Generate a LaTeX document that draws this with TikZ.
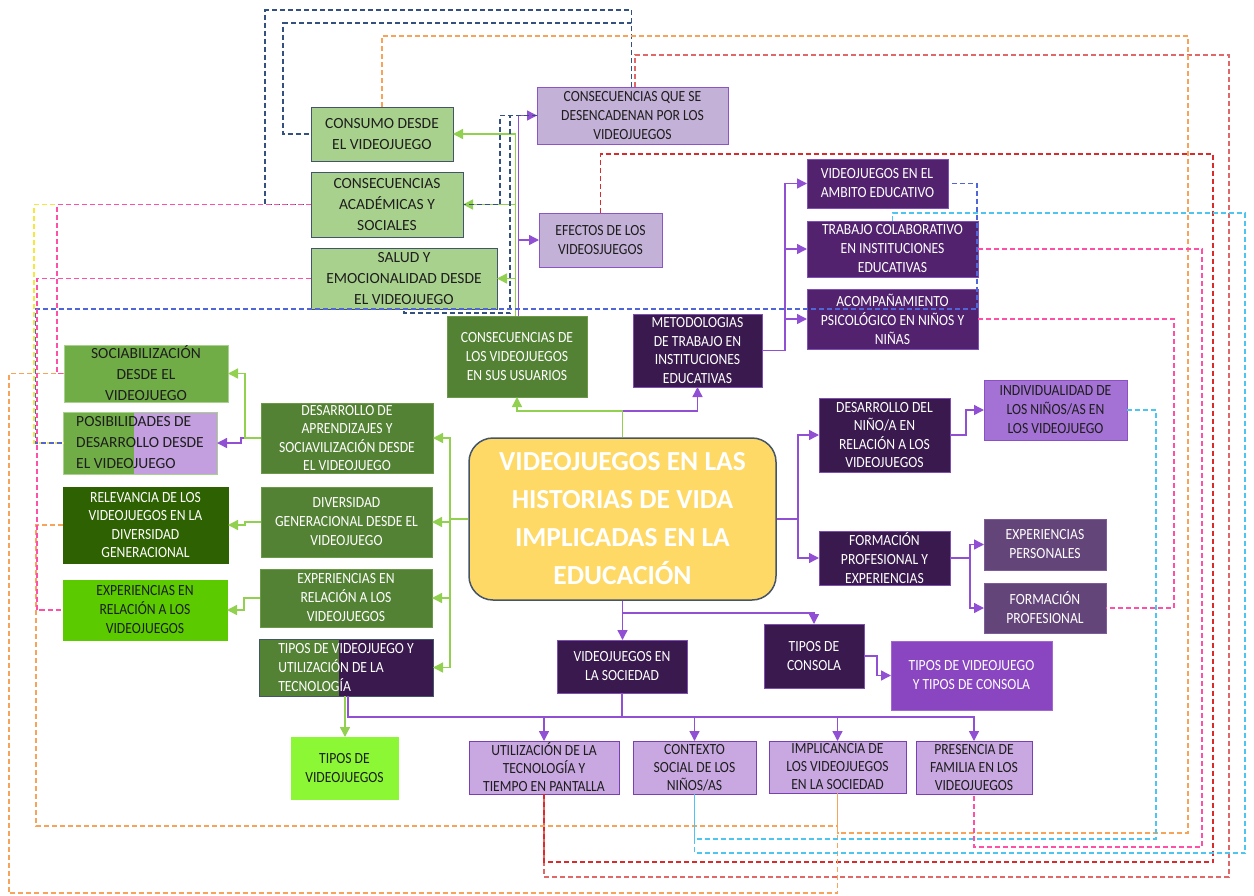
\documentclass[tikz,border=0pt]{standalone}
\usepackage{fontspec}
\setmainfont{Carlito}
\newfontfamily\condfont[FakeStretch=0.88]{Carlito}
\usetikzlibrary{arrows.meta}
\definecolor{lgreen}{HTML}{A9D18E}
\definecolor{slate}{HTML}{44546A}
\definecolor{lpurp}{HTML}{C3B1D7}
\definecolor{lpurpB}{HTML}{8B55C8}
\definecolor{mgreen}{HTML}{548235}
\definecolor{mgreenB}{HTML}{6A9A48}
\definecolor{dpurp}{HTML}{3A1A4E}
\definecolor{dpurpB}{HTML}{7E4FB0}
\definecolor{ppurp}{HTML}{53226F}
\definecolor{ppurpB}{HTML}{8050B8}
\definecolor{mpurp}{HTML}{A472D5}
\definecolor{mpurpB}{HTML}{8B4FC6}
\definecolor{gpurp}{HTML}{644579}
\definecolor{gpurpB}{HTML}{7E5C9C}
\definecolor{vpurp}{HTML}{8A45C0}
\definecolor{vpurpB}{HTML}{A068D0}
\definecolor{lav}{HTML}{C9A8E2}
\definecolor{lavB}{HTML}{7B3FB5}
\definecolor{brgreen}{HTML}{8CF734}
\definecolor{sgreen}{HTML}{70AD47}
\definecolor{dkgreen}{HTML}{2E6101}
\definecolor{lime}{HTML}{5BCB00}
\definecolor{splitlav}{HTML}{C39FE0}
\definecolor{central}{HTML}{FFD966}
\definecolor{txtdark}{HTML}{1E1E1E}
\definecolor{cgreen}{HTML}{92D050}
\definecolor{cpurp}{HTML}{9150D4}
\definecolor{dnavy}{HTML}{33507F}
\definecolor{dblue}{HTML}{5066D8}
\definecolor{dyellow}{HTML}{F5E83A}
\definecolor{dpink}{HTML}{FF4FA7}
\definecolor{dorange}{HTML}{F7A45A}
\definecolor{dsalmon}{HTML}{E06868}
\definecolor{dred}{HTML}{D92B2B}
\definecolor{dcyan}{HTML}{4EC5EE}
\newcommand\mkbox[7]{\node[#1, minimum width=#5pt, minimum height=#6pt] (#2) at (#3,#4) {#7};}
\begin{document}
\begin{tikzpicture}[x=1pt,y=-1pt,
  box/.style={rectangle, draw, line width=1pt, inner xsep=2pt, inner ysep=0pt, outer sep=0pt, align=center, font=\condfont\fontsize{15.5}{19}\selectfont},
  lg/.style={box, fill=lgreen, draw=slate, text=txtdark, font=\rmfamily\fontsize{15.5}{21}\selectfont},
  lp/.style={box, fill=lpurp, draw=lpurpB, text=txtdark},
  gbox/.style={box, fill=mgreen, draw=mgreenB, text=white},
  dp/.style={box, fill=dpurp, draw=dpurpB, text=white},
  pp/.style={box, fill=ppurp, draw=ppurpB, text=white},
  mp/.style={box, fill=mpurp, draw=mpurpB, text=txtdark},
  gp/.style={box, fill=gpurp, draw=gpurpB, text=white},
  vp/.style={box, fill=vpurp, draw=vpurpB, text=white},
  lv/.style={box, fill=lav, draw=lavB, text=txtdark},
  splitfill/.style 2 args={path picture={\fill[#1] ([xshift=#2]path picture bounding box.south west) rectangle (path picture bounding box.north east);}},
  gl/.style={draw=cgreen, line width=1.4pt},
  ga/.style={gl, -{Triangle[length=10pt,width=10pt]}},
  pl/.style={draw=cpurp, line width=1.4pt},
  pa/.style={pl, -{Triangle[length=10pt,width=10pt]}},
  dsh/.style={line width=1.3pt, dash pattern=on 5pt off 3pt}
]
\useasboundingbox[fill=white] (0,0) rectangle (1254,895);

% ---------- nodes ----------
\mkbox{lg}{cons}{382}{134}{142}{54}{CONSUMO DESDE\\EL VIDEOJUEGO}
\mkbox{lg}{acad}{387}{204.5}{152}{65}{CONSECUENCIAS\\ACADÉMICAS Y\\SOCIALES}
\mkbox{lg}{salud}{404}{278.5}{186}{61}{SALUD Y\\EMOCIONALIDAD DESDE\\EL VIDEOJUEGO}
\mkbox{lp}{desenc}{632.5}{115.5}{191}{57}{CONSECUENCIAS QUE SE\\DESENCADENAN POR LOS\\VIDEOJUEGOS}
\mkbox{lp}{efectos}{600.5}{240}{123}{54}{EFECTOS DE LOS\\VIDEOSJUEGOS}
\mkbox{gbox}{usuarios}{517}{356.5}{140}{81}{CONSECUENCIAS DE\\LOS VIDEOJUEGOS\\EN SUS USUARIOS}
\mkbox{dp,font=\condfont\fontsize{15.5}{18.5}\selectfont}{metod}{697.5}{350.5}{129}{73}{METODOLOGIAS\\DE TRABAJO EN\\INSTITUCIONES\\EDUCATIVAS}
\mkbox{pp,align=left}{ambito}{877.5}{183.5}{141}{49}{VIDEOJUEGOS EN EL\\AMBITO EDUCATIVO}
\mkbox{pp}{trabajo}{892.5}{249}{171}{56}{TRABAJO COLABORATIVO\\EN INSTITUCIONES\\EDUCATIVAS}
\mkbox{pp}{acomp}{892.5}{319}{171}{60}{ACOMPAÑAMIENTO\\PSICOLÓGICO EN NIÑOS Y\\NIÑAS}
\mkbox{dp,font=\condfont\fontsize{15.5}{18.5}\selectfont}{desnino}{884.5}{435}{131}{74}{DESARROLLO DEL\\NIÑO/A EN\\RELACIÓN A LOS\\VIDEOJUEGOS}
\mkbox{mp}{indiv}{1055.5}{410}{143}{60}{INDIVIDUALIDAD DE\\LOS NIÑOS/AS EN\\LOS VIDEOJUEGO}
\mkbox{dp}{formexp}{884.5}{558}{131}{54}{FORMACIÓN\\PROFESIONAL Y\\EXPERIENCIAS}
\mkbox{gp}{experso}{1045}{544.5}{122}{51}{EXPERIENCIAS\\PERSONALES}
\mkbox{gp}{formprof}{1045}{608}{122}{50}{FORMACIÓN\\PROFESIONAL}
\node[rectangle, rounded corners=24pt, draw=slate, line width=1.5pt, fill=central, text=white,
  align=center, inner sep=0pt, minimum width=307pt, minimum height=162pt,
  font=\fontsize{27.5}{38}\selectfont\bfseries] (centre) at (622.5,519)
  {VIDEOJUEGOS EN LAS\\HISTORIAS DE VIDA\\IMPLICADAS EN LA\\EDUCACIÓN};
\mkbox{dp}{consola}{814}{656}{100}{64}{TIPOS DE\\CONSOLA}
\mkbox{vp}{tiposvc}{971.5}{675.5}{161}{69}{TIPOS DE VIDEOJUEGO\\Y TIPOS DE CONSOLA}
\mkbox{dp}{sociedad}{622}{666.5}{130}{53}{VIDEOJUEGOS EN\\LA SOCIEDAD}
\mkbox{lv,font=\condfont\fontsize{15.5}{18}\selectfont}{utiliz}{544}{767.5}{150}{53}{UTILIZACIÓN DE LA\\TECNOLOGÍA Y\\TIEMPO EN PANTALLA}
\mkbox{lv,font=\condfont\fontsize{15.5}{18}\selectfont}{contexto}{694.5}{767.5}{123}{53}{CONTEXTO\\SOCIAL DE LOS\\NIÑOS/AS}
\mkbox{lv,font=\condfont\fontsize{15.5}{18}\selectfont}{implic}{837.5}{767}{137}{52}{IMPLICANCIA DE\\LOS VIDEOJUEGOS\\EN LA SOCIEDAD}
\mkbox{lv,font=\condfont\fontsize{15.5}{18}\selectfont}{presencia}{974}{767.5}{116}{53}{PRESENCIA DE\\FAMILIA EN LOS\\VIDEOJUEGOS}
\mkbox{gbox,draw=slate,align=left,splitfill={dpurp}{80pt}}{tiposut}{346}{667.5}{174}{57}{TIPOS DE VIDEOJUEGO Y\\UTILIZACIÓN DE LA\\TECNOLOGÍA}
\mkbox{box,fill=brgreen,draw=brgreen,text=txtdark}{tiposvj}{344.5}{768}{107}{62}{TIPOS DE\\VIDEOJUEGOS}
\mkbox{gbox}{expmid}{346}{598}{172}{58}{EXPERIENCIAS EN\\RELACIÓN A LOS\\VIDEOJUEGOS}
\mkbox{gbox}{divgen}{346.5}{522}{171}{70}{DIVERSIDAD\\GENERACIONAL DESDE EL\\VIDEOJUEGO}
\mkbox{gbox,font=\condfont\fontsize{15.5}{18.5}\selectfont}{desapr}{347}{438}{172}{70}{DESARROLLO DE\\APRENDIZAJES Y\\SOCIAVILIZACIÓN DESDE\\EL VIDEOJUEGO}
\mkbox{lg,fill=sgreen,draw=lgreen}{sociab}{146}{373.5}{164}{57}{SOCIABILIZACIÓN\\DESDE EL\\VIDEOJUEGO}
\mkbox{lg,fill=sgreen,draw=lgreen,align=left,splitfill={splitlav}{71pt}}{posib}{140}{443}{154}{62}{POSIBILIDADES DE\\DESARROLLO DESDE\\EL VIDEOJUEGO}
\mkbox{box,fill=dkgreen,draw=dkgreen,text=white,font=\condfont\fontsize{15.5}{18.5}\selectfont}{relev}{145.5}{525}{165}{76}{RELEVANCIA DE LOS\\VIDEOJUEGOS EN LA\\DIVERSIDAD\\GENERACIONAL}
\mkbox{box,fill=lime,draw=lime,text=txtdark}{expleft}{145}{610}{164}{60}{EXPERIENCIAS EN\\RELACIÓN A LOS\\VIDEOJUEGOS}

% ---------- solid connectors ----------
\coordinate (ct) at (622.5,411);
\draw[gl] (centre.north) -- (ct);
\draw[ga] (ct) -| (usuarios.south);
\draw[pa] (ct) -| (metod.south);

\draw[ga] ([xshift=-1.5pt]usuarios.north) |- (cons.east);
\draw[ga] ([xshift=-1.5pt]usuarios.north) |- (acad.east);
\draw[ga] ([xshift=-1.5pt]usuarios.north) |- (salud.east);
\draw[pa] ([xshift=1.5pt]usuarios.north) |- (desenc.west);
\draw[pa] ([xshift=1.5pt]usuarios.north) |- (efectos.west);

\coordinate (mj) at (785,350.5);
\draw[pl] (metod.east) -- (mj);
\draw[pa] (mj) |- (ambito.west);
\draw[pa] (mj) |- (trabajo.west);
\draw[pa] (mj) |- (acomp.west);

\coordinate (cj) at (798,519);
\draw[pl] (centre.east) -- (cj);
\draw[pa] (cj) |- (desnino.west);
\draw[pa] (cj) |- (formexp.west);
\draw[pa] (desnino.east) -- ++(16,0) |- (indiv.west);
\draw[pa] (formexp.east) -- ++(20,0) |- (experso.west);
\draw[pa] (formexp.east) -- ++(20,0) |- (formprof.west);

\draw[pa] (centre.south) -- (centre.south |- sociedad.north);
\coordinate (cb) at (622.5,613);
\draw[pa] (cb) -| (consola.north);
\draw[pa] (consola.east) -- ++(13,0) |- (tiposvc.west);

\coordinate (sj) at (622,717);
\draw[pl] (sociedad.south) -- (sj);
\draw[pl] ([xshift=2pt]tiposut.south) |- (sj);
\draw[pa] (sj) -| (utiliz.north);
\draw[pa] (sj) -| (contexto.north);
\draw[pa] (sj) -| (implic.north);
\draw[pa] (sj) -| (presencia.north);
\draw[ga] ([xshift=-1pt]tiposut.south) -- ([xshift=-1pt]tiposut.south |- tiposvj.north);

\coordinate (lj) at (450,519);
\draw[gl] (centre.west) -- (lj);
\draw[ga] (lj) |- (desapr.east);
\draw[ga] (lj) |- (divgen.east);
\draw[ga] (lj) |- (expmid.east);
\draw[ga] (lj) |- (tiposut.east);

\draw[ga] (desapr.west) -- ++(-16,0) |- (sociab.east);
\draw[pa] ([xshift=-17pt]desapr.west) -- ++(-3,0) |- (posib.east);
\draw[ga] (divgen.west) -- ++(-16,0) |- (relev.east);
\draw[ga] (expmid.west) -- ++(-16,0) |- (expleft.east);

% ---------- dashed links ----------
\draw[dsh,dnavy] ([xshift=-1pt]desenc.north) |- (265,10) |- (acad.west);
\draw[dsh,dnavy] ([xshift=-1pt]desenc.north) |- (283,23) |- (cons.west);
\draw[dsh,dnavy] (desenc.west) -- (500,115.5) |- (acad.east);
\draw[dsh,dnavy] (desenc.west) -- (510,115.5) -- (510,313) -| (salud.south);
\draw[dsh,dsalmon] ([xshift=2.5pt]desenc.north) |- (1229,55) -- (1229,877) -| (utiliz.south);
\draw[dsh,dred] (efectos.north) |- (1213,154) -- (1213,862) -| (utiliz.south);
\draw[dsh,dorange] (cons.north) |- (1188,36) -- (1188,833) -| (implic.south);
\draw[dsh,dorange] (relev.west) -| (36,826) -| (implic.south);
\draw[dsh,dorange] (sociab.west) -| (9,893) -| (implic.south);
\draw[dsh,dcyan] (trabajo.north) |- (1245,213) -- (1245,853) -| (contexto.south);
\draw[dsh,dcyan] (indiv.east) -| (1156,839) -| (contexto.south);
\draw[dsh,dpink] (trabajo.east) -| (1202,847) -| (presencia.south);
\draw[dsh,dpink] (acomp.east) -| (1174,608) -- (formprof.east);
\draw[dsh,dyellow] (acad.west) -| (34,443) -- (posib.west);
\draw[dsh,dblue,dash phase=4pt] (ambito.east) -| (977,309) -| (35.5,443) -- (posib.west);
\draw[dsh,dpink] (salud.west) -| (37,610) -- (expleft.west);
\draw[dsh,dpink] (acad.west) -| (57,373.5) -- (sociab.west);
\end{tikzpicture}
\end{document}
